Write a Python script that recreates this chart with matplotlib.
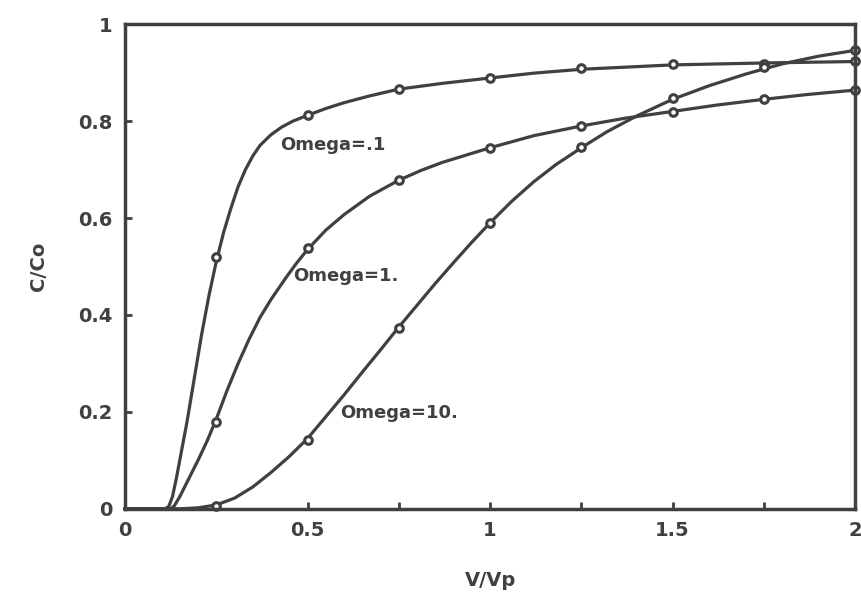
import matplotlib
matplotlib.use("Agg")
import matplotlib.pyplot as plt
from matplotlib.ticker import MultipleLocator, FormatStrFormatter

INK = "#404040"

# sampled points (markers)
vvp = [0.25, 0.5, 0.75, 1.0, 1.25, 1.5, 1.75, 2.0]
pts_omega_01 = [0.52, 0.812, 0.866, 0.889, 0.909, 0.917, 0.917, 0.924]
pts_omega_1 = [0.18, 0.538, 0.678, 0.744, 0.79, 0.819, 0.845, 0.864]
pts_omega_10 = [0.005, 0.142, 0.373, 0.59, 0.746, 0.847, 0.911, 0.946]

# model curves
cx_01 = [0, 0.11, 0.12, 0.13, 0.14, 0.15, 0.17, 0.19, 0.21, 0.23, 0.25, 0.27,
         0.29, 0.31, 0.33, 0.35, 0.37, 0.40, 0.43, 0.46, 0.5, 0.55, 0.6, 0.67,
         0.75, 0.87, 1.0, 1.12, 1.25, 1.5, 1.75, 2.0]
cy_01 = [0, 0, 0.005, 0.025, 0.06, 0.10, 0.18, 0.27, 0.36, 0.44, 0.51, 0.57,
         0.62, 0.665, 0.70, 0.728, 0.75, 0.772, 0.788, 0.80, 0.812, 0.826, 0.838, 0.852,
         0.866, 0.878, 0.889, 0.899, 0.907, 0.916, 0.92, 0.923]

cx_1 = [0, 0.125, 0.135, 0.15, 0.17, 0.2, 0.225, 0.25, 0.28, 0.31, 0.34, 0.37,
        0.40, 0.44, 0.47, 0.5, 0.55, 0.6, 0.67, 0.75, 0.81, 0.87, 1.0, 1.12, 1.25,
        1.37, 1.5, 1.62, 1.75, 1.87, 2.0]
cy_1 = [0, 0, 0.006, 0.025, 0.055, 0.10, 0.14, 0.185, 0.245, 0.30, 0.35, 0.395,
        0.432, 0.476, 0.507, 0.535, 0.575, 0.607, 0.645, 0.678, 0.698, 0.715, 0.745, 0.77, 0.79,
        0.806, 0.82, 0.833, 0.845, 0.855, 0.864]

cx_10 = [0, 0.15, 0.2, 0.25, 0.3, 0.35, 0.4, 0.45, 0.5, 0.55, 0.6, 0.65,
         0.7, 0.75, 0.8, 0.85, 0.9, 0.95, 1.0, 1.06, 1.12, 1.18, 1.25, 1.32,
         1.4, 1.5, 1.6, 1.7, 1.8, 1.9, 2.0]
cy_10 = [0, 0, 0.002, 0.008, 0.022, 0.045, 0.075, 0.108, 0.145, 0.19, 0.235, 0.282,
         0.328, 0.375, 0.42, 0.465, 0.508, 0.55, 0.59, 0.635, 0.675, 0.71, 0.745, 0.778,
         0.81, 0.845, 0.873, 0.897, 0.918, 0.934, 0.946]

labels = ["Omega=.1", "Omega=1.", "Omega=10."]
label_pos = [(0.425, 0.75), (0.46, 0.48), (0.59, 0.197)]

fig = plt.figure(figsize=(8.62, 6.05), dpi=100)
ax = fig.add_axes([0.145, 0.159, 0.847, 0.801])

for cx, cy, py in [(cx_01, cy_01, pts_omega_01), (cx_1, cy_1, pts_omega_1),
                   (cx_10, cy_10, pts_omega_10)]:
    ax.plot(cx, cy, color=INK, lw=2.3, solid_joinstyle="round", clip_on=False)
    ax.plot(vvp, py, "o", ms=5.5, mfc="white", mec=INK, mew=2.2, clip_on=False)

for lab, (lx, ly) in zip(labels, label_pos):
    ax.text(lx, ly, lab, fontsize=13, fontweight="bold", color=INK,
            ha="left", va="center")

ax.set_xlim(0, 2)
ax.set_ylim(0, 1)
ax.xaxis.set_major_locator(MultipleLocator(0.5))
ax.xaxis.set_minor_locator(MultipleLocator(0.25))
ax.yaxis.set_major_locator(MultipleLocator(0.2))
ax.xaxis.set_major_formatter(FormatStrFormatter("%g"))
ax.yaxis.set_major_formatter(FormatStrFormatter("%g"))
ax.tick_params(which="both", direction="in", length=5, width=2, color=INK,
               labelsize=14, labelcolor=INK, pad=9)
for lab in ax.get_xticklabels() + ax.get_yticklabels():
    lab.set_fontweight("bold")
for s in ax.spines.values():
    s.set_linewidth(2.5)
    s.set_color(INK)

ax.set_xlabel("V/Vp", fontsize=14, fontweight="bold", color=INK, labelpad=22)
ax.set_ylabel("C/Co", fontsize=14, fontweight="bold", color=INK, labelpad=22)

plt.savefig("out.png", dpi=100)
